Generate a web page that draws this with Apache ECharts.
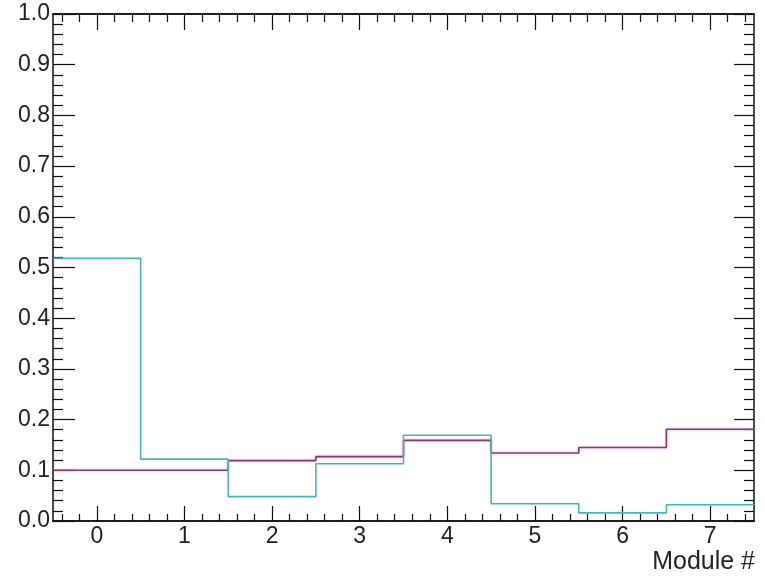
<!DOCTYPE html>
<html>
<head>
<meta charset="utf-8">
<script src="https://cdn.jsdelivr.net/npm/echarts@6/dist/echarts.min.js"></script>
<style>html,body{margin:0;padding:0;background:#fff}#c{width:765px;height:578px}</style>
</head>
<body>
<div id="c"></div>
<script>
// Data
var modules = [0, 1, 2, 3, 4, 5, 6, 7];
var cyanValues = [0.518, 0.122, 0.048, 0.113, 0.169, 0.034, 0.016, 0.032];
var magentaValues = [0.100, 0.100, 0.119, 0.127, 0.159, 0.134, 0.145, 0.181];
var xMajorTicks = [0, 1, 2, 3, 4, 5, 6, 7];
var xAxisTitle = 'Module #';

function histPoints(vals) {
  var pts = [];
  for (var i = 0; i < modules.length; i++) {
    pts.push([modules[i] - 0.5, vals[i]]);
    pts.push([modules[i] + 0.5, vals[i]]);
  }
  return pts;
}
var xMinorTicks = [];
for (var k = -2; k <= 37; k++) {
  var v = +(k * 0.2).toFixed(1);
  if (v > -0.5 && v < 7.5 && Math.abs(v - Math.round(v)) > 1e-6) xMinorTicks.push(v);
}

var font = 'Liberation Sans, Arial, Helvetica, sans-serif';
var axisColor = '#111';
function xAx(pos, ticks, len, labels) {
  return {
    type: 'value', position: pos, min: -0.5, max: 7.5,
    axisLine: { show: true, onZero: false, lineStyle: { color: axisColor, width: 1.5 } },
    axisTick: { show: true, inside: true, length: len, customValues: ticks, lineStyle: { color: axisColor, width: 1.2 } },
    axisLabel: labels ? { show: true, customValues: xMajorTicks, margin: 4, fontSize: 23, fontFamily: font, color: '#222' } : { show: false },
    splitLine: { show: false }
  };
}
function yAx(pos, majorLen, minorLen, labels) {
  return {
    type: 'value', position: pos, min: 0, max: 1, interval: 0.1,
    axisLine: { show: true, onZero: false, lineStyle: { color: axisColor, width: 1.5 } },
    axisTick: { show: true, inside: true, length: majorLen, lineStyle: { color: axisColor, width: 1.2 } },
    minorTick: { show: true, splitNumber: 5, length: minorLen, lineStyle: { color: axisColor, width: 1.2 } },
    axisLabel: labels ? { show: true, margin: 3, fontSize: 23, fontFamily: font, color: '#222', formatter: function (v) { return v.toFixed(1); } } : { show: false },
    splitLine: { show: false }, minorSplitLine: { show: false }
  };
}

var chart = echarts.init(document.getElementById('c'), null, { renderer: 'canvas' });
chart.setOption({
  animation: false,
  backgroundColor: '#fff',
  grid: { left: 53, top: 14, right: 11, bottom: 57, containLabel: false },
  xAxis: [
    xAx('bottom', xMajorTicks, 15, true),
    xAx('bottom', xMinorTicks, 7, false),
    xAx('top', xMajorTicks, 16, false),
    xAx('top', xMinorTicks, 8, false)
  ],
  yAxis: [
    yAx('left', 22, 10, true),
    yAx('right', 20, 10, false)
  ],
  series: [
    {
      type: 'line', xAxisIndex: 0, yAxisIndex: 0, data: histPoints(magentaValues),
      showSymbol: false, symbol: 'none',
      lineStyle: { color: '#7a3f6c', width: 1.6, shadowColor: 'rgba(230,120,200,0.6)', shadowBlur: 3 }
    },
    {
      type: 'line', xAxisIndex: 0, yAxisIndex: 0, data: histPoints(cyanValues),
      showSymbol: false, symbol: 'none',
      lineStyle: { color: '#4db2b3', width: 1.6 }
    }
  ],
  graphic: [{
    type: 'text', right: 10, top: 550,
    style: { text: xAxisTitle, font: '25px ' + font, fill: '#222' }
  }]
});
</script>
</body>
</html>
